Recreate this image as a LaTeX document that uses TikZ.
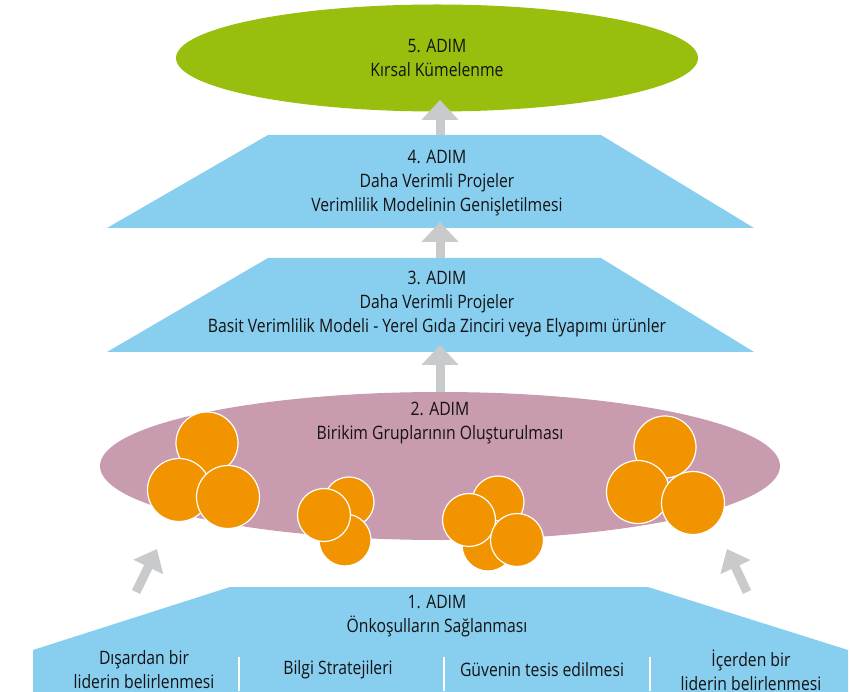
\documentclass[tikz,border=0pt]{standalone}
\usepackage{fontspec}
\setmainfont{Open Sans}[FakeStretch=0.85]
\usetikzlibrary{arrows.meta,shapes.geometric}
\definecolor{stepgreen}{HTML}{98BE0E}
\definecolor{stepblue}{HTML}{88CFEF}
\definecolor{steppink}{HTML}{C89BAF}
\definecolor{ballorange}{HTML}{F29400}
\definecolor{arrowgrey}{HTML}{C9CACB}
\definecolor{inkdark}{HTML}{141213}
\begin{document}
\begin{tikzpicture}[x=1pt,y=-1pt,
  label/.style={align=center,text=inkdark,inner sep=0pt,
    font=\fontsize{18.5}{24}\selectfont},
  uparrow/.style={line width=9pt,draw=arrowgrey,
    -{Triangle[width=36pt,length=20pt]}},
  sidearrow/.style={line width=9pt,draw=arrowgrey,
    -{Triangle[width=32pt,length=20pt]}},
  ball/.style={circle,fill=ballorange,draw=white,line width=1.2pt,inner sep=0pt},
  divider/.style={draw=white,line width=1.6pt}]
\useasboundingbox (0,0) rectangle (852,692);

% step 5: top ellipse
\node[ellipse,fill=stepgreen,minimum width=522pt,minimum height=107pt,inner sep=0pt]
  (s5) at (437,58) {};
\node[label] (t5) at (437,58) {5. ADIM\\Kırsal Kümelenme};

% step 4 and step 3: trapezia
\fill[stepblue] (268,135) -- (601,135) -- (754,228) -- (107,228) -- cycle;
\coordinate (s4top) at (440,135);
\coordinate (s4bot) at (440,222);
\node[label] (t4) at (437,183) {4. ADIM\\Daha Verimli Projeler\\Verimlilik Modelinin Genişletilmesi};

\fill[stepblue] (268,258) -- (601,258) -- (754,352) -- (107,352) -- cycle;
\coordinate (s3top) at (440,258);
\coordinate (s3bot) at (440,345);
\node[label] (t3) at (437,304) {3. ADIM\\Daha Verimli Projeler\\Basit Verimlilik Modeli - Yerel Gıda Zinciri veya Elyapımı ürünler};

% step 2: pink ellipse with groups of balls
\node[ellipse,fill=steppink,minimum width=680pt,minimum height=148pt,inner sep=0pt]
  (s2) at (440,466) {};
\node[label] (t2) at (440,423) {2. ADIM\\Birikim Gruplarının Oluşturulması};

\node[ball,minimum size=62pt] (g1a) at (207,443) {};
\node[ball,minimum size=63pt] (g1b) at (179,490) {};
\node[ball,minimum size=63pt] (g1c) at (228,497) {};

\node[ball,minimum size=50pt] (g2a) at (349,502) {};
\node[ball,minimum size=52pt] (g2b) at (345,540) {};
\node[ball,minimum size=53pt] (g2c) at (324,515) {};

\node[ball,minimum size=52pt] (g3a) at (498,502) {};
\node[ball,minimum size=52pt] (g3b) at (488,545) {};
\node[ball,minimum size=53pt] (g3c) at (469,520) {};
\node[ball,minimum size=53pt] (g3d) at (517,540) {};

\node[ball,minimum size=62pt] (g4a) at (665,447) {};
\node[ball,minimum size=63pt] (g4b) at (638,492) {};
\node[ball,minimum size=63pt] (g4c) at (693,503) {};

% step 1: base shape with four prerequisites
\fill[stepblue] (230,587) -- (648,587) -- (848,650) -- (848,700)
  -- (33,700) -- (33,650) -- cycle;
\coordinate (s1left) at (136,592);
\coordinate (s1right) at (747,592);
\node[label] (t1) at (437,616) {1. ADIM\\Önkoşulların Sağlanması};

\node[label] (p1) at (144,670) {Dışardan bir\\liderin belirlenmesi};
\node[label] (p2) at (338,670) {Bilgi Stratejileri};
\node[label] (p3) at (542,670) {Güvenin tesis edilmesi};
\node[label] (p4) at (751,670) {İçerden bir\\liderin belirlenmesi};
\draw[divider] (239,657) -- (239,691);
\draw[divider] (444,657) -- (444,691);
\draw[divider] (650,657) -- (650,691);

% connectors between steps
\coordinate (s5bot) at (440,100);
\coordinate (s2top) at (440,392);
\coordinate (s2left) at (157,549);
\coordinate (s2right) at (727,549);
\draw[uparrow] (s4top) -- (s5bot);
\draw[uparrow] (s3top) -- (s4bot);
\draw[uparrow] (s2top) -- (s3bot);
\draw[sidearrow] (s1left) -- (s2left);
\draw[sidearrow] (s1right) -- (s2right);
\end{tikzpicture}
\end{document}
